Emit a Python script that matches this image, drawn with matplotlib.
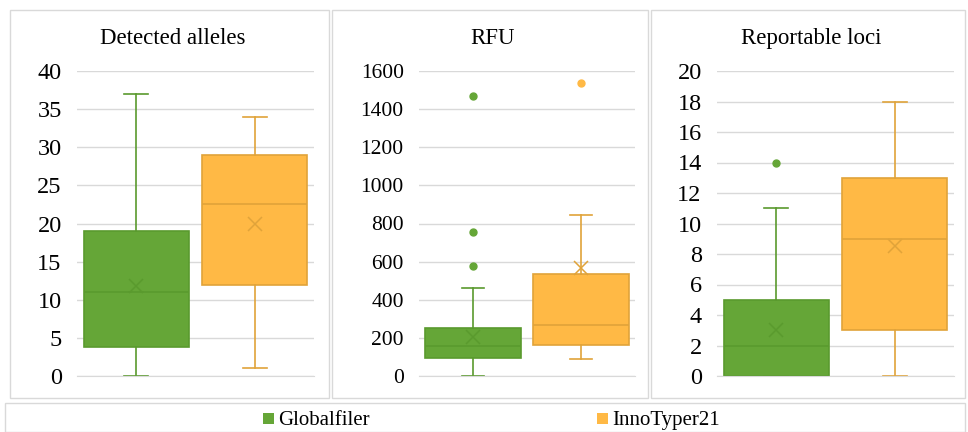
import matplotlib.pyplot as plt
from matplotlib.patches import Rectangle

plt.rcParams['font.family'] = ['Liberation Serif', 'DejaVu Serif']

W, H = 968, 432

titles = ['Detected alleles', 'RFU', 'Reportable loci']
series = ['Globalfiler', 'InnoTyper21']

# per panel: [Globalfiler, InnoTyper21] stats
whislo = [[0, 1], [0, 90], [0, 0]]
q1 = [[3.8, 12], [95, 165], [0, 3]]
med = [[11, 22.5], [160, 265], [2, 9]]
q3 = [[19, 29], [250, 535], [5, 13]]
whishi = [[37, 34], [460, 845], [11, 18]]
means = [[11.8, 20], [205, 565], [3, 8.5]]
fliers = [[[], []], [[575, 755, 1470], [1535]], [[14], []]]

ymax = [40, 1600, 20]
ystep = [5, 200, 2]

fills = ['#65A637', '#FFB945']
edges = ['#5A9A2E', '#E0A33A']

# pixel layout: axes (left, right), panel frames (left, right)
ax_x = [(77, 314), (419, 635), (717, 954)]
frame_x = [(10, 329), (332, 648), (651, 965)]
tick_fs = [17.5, 15.5, 17.5]
ax_top, ax_bot = 71, 376

fig = plt.figure(figsize=(W / 100, H / 100), dpi=100)

for i in range(3):
    fl, fr = frame_x[i]
    fig.patches.append(Rectangle((fl / W, 1 - 398 / H), (fr - fl) / W, 388 / H,
                                 transform=fig.transFigure, fill=False,
                                 edgecolor='#D9D9D9', linewidth=1))
    fig.text((fl + fr) / 2 / W + 3 / W, 1 - 44 / H, titles[i], ha='center',
             va='baseline', fontsize=16.5)

    l, r = ax_x[i]
    ax = fig.add_axes([l / W, 1 - ax_bot / H, (r - l) / W, (ax_bot - ax_top) / H])
    for j in range(2):
        st = [dict(whislo=whislo[i][j], q1=q1[i][j], med=med[i][j], q3=q3[i][j],
                   whishi=whishi[i][j], mean=means[i][j], fliers=fliers[i][j])]
        ax.bxp(st, positions=[j + 1], widths=0.89, capwidths=0.2,
               showmeans=True, patch_artist=True,
               boxprops=dict(facecolor=fills[j], edgecolor=edges[j], linewidth=1.2),
               medianprops=dict(color=edges[j], linewidth=1.2),
               whiskerprops=dict(color=edges[j], linewidth=1.2),
               capprops=dict(color=edges[j], linewidth=1.2),
               meanprops=dict(marker='x', markeredgecolor=edges[j], markersize=10,
                              markeredgewidth=1.1),
               flierprops=dict(marker='o', markerfacecolor=fills[j],
                               markeredgecolor=fills[j], markersize=5))
    ax.set_xlim(0.5, 2.5)
    ax.set_ylim(0, ymax[i])
    ax.set_yticks(range(0, ymax[i] + 1, ystep[i]))
    ax.grid(axis='y', color='#D9D9D9', linewidth=1)
    ax.set_axisbelow(True)
    for s in ['top', 'right', 'left']:
        ax.spines[s].set_visible(False)
    ax.spines['bottom'].set_color('#D9D9D9')
    ax.set_xticks([])
    ax.tick_params(axis='y', length=0, labelsize=tick_fs[i], pad=11)

# legend
fig.patches.append(Rectangle((5 / W, 0), 960 / W, 29 / H, transform=fig.transFigure,
                             fill=False, edgecolor='#D9D9D9', linewidth=1))
leg_x = [263, 597]
for j in range(2):
    fig.patches.append(Rectangle((leg_x[j] / W, (432 - 424) / H), 11 / W, 11 / H,
                                 transform=fig.transFigure, facecolor=fills[j],
                                 edgecolor='none'))
    fig.text((leg_x[j] + 15) / W, 1 - 425 / H, series[j], ha='left', va='baseline',
             fontsize=15)

fig.savefig('out.png', dpi=100)
